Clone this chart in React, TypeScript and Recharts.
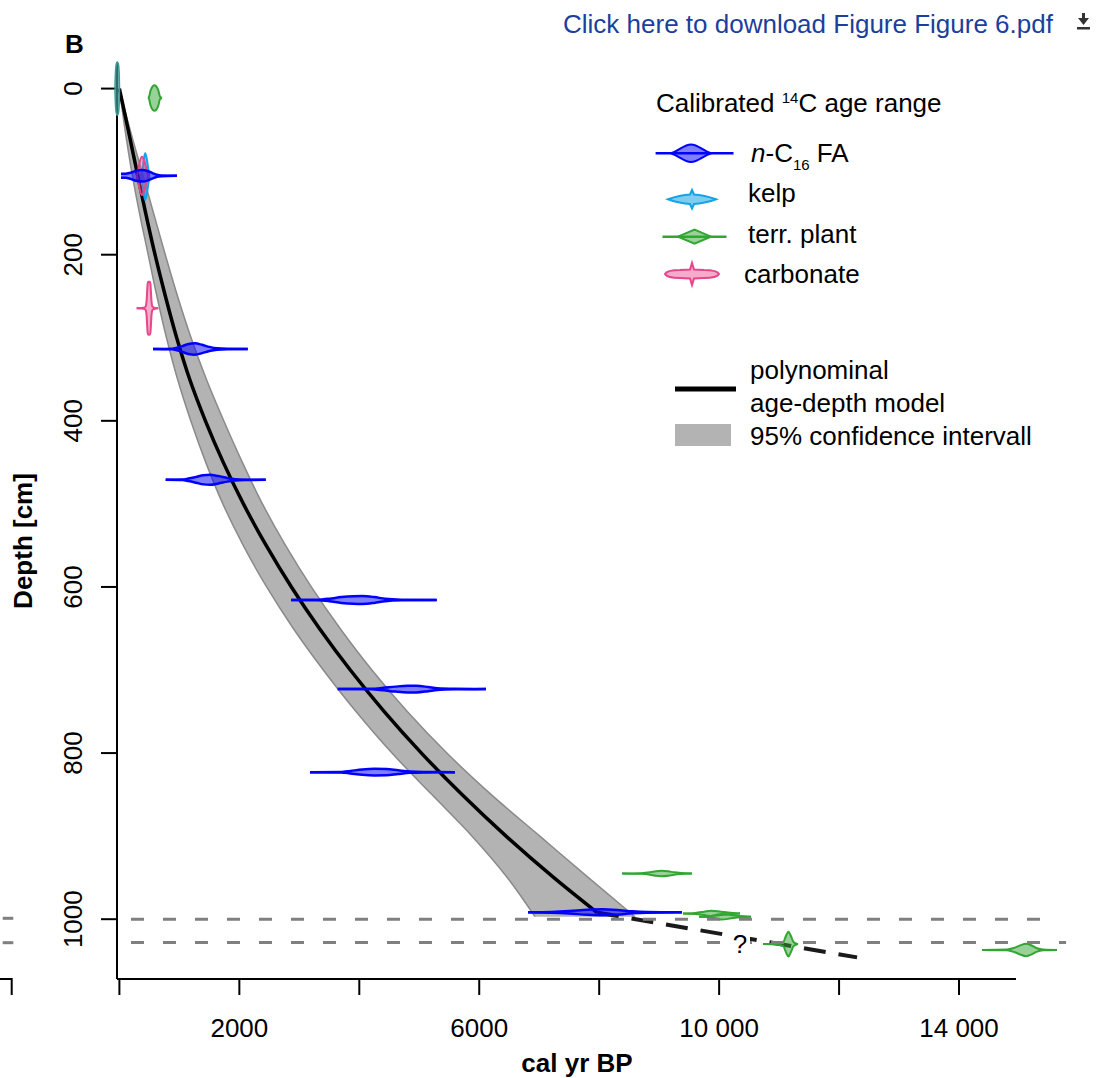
import React from 'react';
import { ComposedChart, Area, Line, XAxis, YAxis } from 'recharts';

const FONT = '"Liberation Sans", Arial, Helvetica, sans-serif';
const W = 1107;
const H = 1078;
const PLOT = { left: 117, right: 1016, top: 62, bottom: 979 };
const AXIS_W = 60;
const AXIS_H = 30;
const AGE_DOMAIN: [number, number] = [-40, 14950];
const DEPTH_DOMAIN: [number, number] = [-32, 1072];

// axis ticks
const xTicks = [0, 2000, 4000, 6000, 8000, 10000, 12000, 14000];
const xTickLabels = ['', '2000', '', '6000', '', '10 000', '', '14 000'];
const yTicks = [0, 200, 400, 600, 800, 1000];

// polynomial age-depth model (depth cm -> cal yr BP)
const modelDepth = [0, 50, 100, 150, 200, 250, 300, 350, 400, 450, 500, 550, 600, 650, 700, 750, 800, 850, 900, 950, 992];
const modelAge = [0, 148, 292, 438, 594, 767, 955, 1172, 1434, 1732, 2068, 2447, 2868, 3335, 3850, 4416, 5036, 5712, 6447, 7244, 7964];
// dashed extrapolation
const extDepth = [992, 1046];
const extAge = [7964, 12300];

// 95% confidence interval
const bandDepth = [0, 50, 100, 150, 200, 250, 300, 350, 400, 450, 500, 550, 600, 650, 700, 750, 800, 850, 900, 950, 997];
const bandMin = [0, 95, 205, 335, 480, 625, 785, 970, 1190, 1440, 1725, 2065, 2455, 2900, 3400, 3945, 4545, 5210, 5880, 6470, 6930];
const bandMax = [0, 180, 375, 570, 765, 970, 1195, 1450, 1740, 2050, 2385, 2770, 3200, 3680, 4210, 4800, 5460, 6200, 7010, 7820, 8598];

// horizontal dashed marker depths (with their age extent)
const markerDepths = [1000, 1028];
const markerStart = [193, 193];
const markerEnd = [15434, 15785];

// calibrated age distributions: depth, ages, half-heights (cm)
const faDepth = [105, 313.5, 471, 615.7, 723, 823, 991.7];
const faAge = [
  [27, 100, 177, 280, 377, 480, 560, 627, 700, 960],
  [560, 880, 960, 1050, 1150, 1260, 1380, 1500, 1630, 1800, 2140],
  [772, 1050, 1150, 1280, 1400, 1511, 1650, 1800, 1930, 2100, 2440],
  [2862, 3300, 3500, 3700, 3900, 4050, 4250, 4430, 4700, 5291],
  [3640, 4200, 4400, 4600, 4800, 4950, 5150, 5300, 5600, 6113],
  [3178, 3700, 3850, 4050, 4250, 4450, 4650, 4850, 5100, 5596],
  [6813, 7200, 7500, 7800, 8050, 8300, 8550, 8800, 9381],
];
const faHalf = [
  [2.5, 2.5, 3.5, 6, 7, 5.5, 3, 1.2, 0.4, 0],
  [0, 0.3, 1.5, 3.5, 6.0, 6.8, 5.0, 2.5, 0.8, 0.2, 0],
  [0, 0.3, 1.5, 3.5, 5.5, 6.0, 4.5, 2.2, 0.8, 0.2, 0],
  [0, 0.3, 1.5, 3.5, 4.6, 4.8, 3.5, 1.5, 0.4, 0],
  [0, 0.3, 1.5, 3.0, 4.0, 4.0, 2.5, 1.0, 0.3, 0],
  [0, 0.3, 1.5, 3.2, 4.0, 3.8, 2.2, 0.8, 0.3, 0],
  [0, 0.5, 1.5, 3.0, 3.6, 2.8, 1.2, 0.4, 0],
];

const kelpDepth = [106];
const kelpAge = [[360, 385, 410, 430, 455, 480, 500]];
const kelpHalf = [[0, 8, 22, 28, 22, 10, 0]];

const carbDepth = [105, 264.5];
const carbAge = [
  [290, 310, 340, 375, 410, 445, 480],
  [288, 400, 436, 452, 472, 482, 506, 516, 536, 552, 590, 648],
];
const carbHalf = [
  [0, 6, 17, 23, 19, 10, 0],
  [0, 0.5, 2, 8, 30, 32, 32, 30, 8, 2, 0.5, 0],
];

const terrDepth = [11.3, 945, 993, 997, 1030, 1037];
const terrAge = [
  [477, 495, 520, 560, 585, 610, 650, 677, 710],
  [8381, 8700, 8850, 8950, 9040, 9150, 9250, 9365, 9548],
  [9398, 9600, 9750, 9865, 10000, 10150, 10348],
  [9665, 9850, 9950, 10050, 10200, 10350, 10532],
  [10732, 10950, 11070, 11115, 11155, 11195, 11240, 11290, 11316],
  [14384, 14800, 14920, 15020, 15118, 15220, 15300, 15400, 15634],
];
const terrHalf = [
  [0, 1.5, 9, 14.5, 15.4, 14.5, 9, 1.5, 0],
  [0, 0.4, 1.5, 2.8, 3.2, 2.6, 1.4, 0.6, 0],
  [0, 0.6, 2.0, 3.2, 2.4, 1.0, 0],
  [0, 0.8, 2.2, 3.4, 2.0, 0.8, 0],
  [0, 0.5, 2.5, 10, 15, 10, 2.5, 0.5, 0],
  [0, 0.4, 2.5, 5.5, 7.5, 5, 2, 0.5, 0],
];

const modernDepth = [0];
const modernAge = [[-75, -65, -50, -35, -18, -5, 2]];
const modernHalf = [[0, 20, 30, 32, 30, 20, 0]];

// ---- tables built from the arrays ----
const modelData = modelDepth.map((d, i) => ({ depth: d, age: modelAge[i] }));
const extData = extDepth.map((d, i) => ({ depth: d, age: extAge[i] }));
const bandData = bandDepth.map((d, i) => ({ depth: d, range: [bandMin[i], bandMax[i]] }));
const markerData = markerDepths.map((d, i) => [
  { age: markerStart[i], depth: d },
  { age: markerEnd[i], depth: d },
]);

const violins = (depths: number[], ages: number[][], halves: number[][]) =>
  depths.map((d, k) => ages[k].map((a, i) => ({ age: a, range: [d - halves[k][i], d + halves[k][i]] })));

const faV = violins(faDepth, faAge, faHalf);
const kelpV = violins(kelpDepth, kelpAge, kelpHalf);
const carbV = violins(carbDepth, carbAge, carbHalf);
const terrV = violins(terrDepth, terrAge, terrHalf);
const modernV = violins(modernDepth, modernAge, modernHalf);

const COL = {
  fa: '#0000ff',
  kelp: '#16a2e6',
  terr: '#33a532',
  carb: '#e8458b',
  modern: '#3f9a98',
};

// overlay chart (violins) uses full-canvas plot area with equivalent domains
const kx = (AGE_DOMAIN[1] - AGE_DOMAIN[0]) / (PLOT.right - PLOT.left);
const ky = (DEPTH_DOMAIN[1] - DEPTH_DOMAIN[0]) / (PLOT.bottom - PLOT.top);
const fullAge: [number, number] = [AGE_DOMAIN[0] - PLOT.left * kx, AGE_DOMAIN[1] + (W - PLOT.right) * kx];
const fullDepth: [number, number] = [DEPTH_DOMAIN[0] - PLOT.top * ky, DEPTH_DOMAIN[1] + (H - PLOT.bottom) * ky];

const YTick = (p: any) => {
  const { x, y, payload } = p;
  return (
    <text x={x} y={y} transform={`rotate(-90 ${x} ${y})`} textAnchor="middle" fontSize={26} fontFamily={FONT} fill="#000">
      {payload.value}
    </text>
  );
};

const renderViolins = (groups: any[][], color: string, key: string, sw: number, fo: number) =>
  groups.map((g, i) => (
    <Area
      key={`${key}${i}`}
      data={g}
      dataKey="range"
      type="monotone"
      stroke={color}
      strokeWidth={sw}
      fill={color}
      fillOpacity={fo}
      dot={false}
      activeDot={false}
      isAnimationActive={false}
    />
  ));

export default function App() {
  return (
    <div style={{ position: 'absolute', left: 0, top: 0, width: W, height: H, background: '#fff', fontFamily: FONT }}>
      <div style={{ position: 'absolute', left: 0, top: 0 }}>
        <ComposedChart
          layout="vertical"
          width={W}
          height={H}
          margin={{
            top: PLOT.top,
            right: W - PLOT.right,
            bottom: H - PLOT.bottom - AXIS_H,
            left: PLOT.left - AXIS_W,
          }}
        >
          <XAxis
            type="number"
            dataKey="age"
            domain={AGE_DOMAIN}
            allowDataOverflow
            ticks={xTicks}
            interval={0}
            height={AXIS_H}
            tickSize={16}
            tickMargin={23.5}
            tickFormatter={(v: number) => xTickLabels[xTicks.indexOf(v)] ?? ''}
            tick={{ fontSize: 26, fill: '#000', fontFamily: FONT }}
            axisLine={{ stroke: '#000', strokeWidth: 2 }}
            tickLine={{ stroke: '#000', strokeWidth: 2 }}
          />
          <YAxis
            type="number"
            dataKey="depth"
            domain={DEPTH_DOMAIN}
            allowDataOverflow
            ticks={yTicks}
            interval={0}
            width={AXIS_W}
            tickSize={16}
            tickMargin={19}
            tick={<YTick />}
            axisLine={{ stroke: '#000', strokeWidth: 2 }}
            tickLine={{ stroke: '#000', strokeWidth: 2 }}
          />
          <Area
            data={bandData}
            dataKey="range"
            type="monotone"
            stroke="#8a8a8a"
            strokeWidth={1.5}
            fill="#b3b3b3"
            fillOpacity={1}
            dot={false}
            activeDot={false}
            isAnimationActive={false}
          />
          <Line
            data={modelData}
            dataKey="age"
            type="monotone"
            stroke="#000"
            strokeWidth={3.5}
            dot={false}
            activeDot={false}
            isAnimationActive={false}
          />
          <Line
            data={extData}
            dataKey="age"
            type="linear"
            stroke="#1a1a1a"
            strokeWidth={4}
            strokeDasharray="22 13"
            dot={false}
            activeDot={false}
            isAnimationActive={false}
          />
        </ComposedChart>
      </div>
      <div style={{ position: 'absolute', left: 0, top: 0, pointerEvents: 'none' }}>
        <ComposedChart width={W} height={H} margin={{ top: 0, right: 0, bottom: 0, left: 0 }}>
          <XAxis type="number" dataKey="age" domain={fullAge} allowDataOverflow hide />
          <YAxis type="number" domain={fullDepth} reversed allowDataOverflow hide />
          {markerData.map((m, i) => (
            <Line
              key={`m${i}`}
              data={m}
              dataKey="depth"
              type="linear"
              stroke="#7f7f7f"
              strokeWidth={3}
              strokeDasharray="13 19"
              dot={false}
              activeDot={false}
              isAnimationActive={false}
            />
          ))}
          {renderViolins(modernV, COL.modern, 'mo', 1.5, 0.7)}
          {renderViolins(terrV, COL.terr, 'te', 2, 0.5)}
          {renderViolins(kelpV, COL.kelp, 'ke', 2, 0.55)}
          {renderViolins(carbV, COL.carb, 'ca', 2, 0.45)}
          {renderViolins(faV, COL.fa, 'fa', 2.5, 0.5)}
        </ComposedChart>
      </div>
      <svg
        width={W}
        height={H}
        style={{ position: 'absolute', left: 0, top: 0, pointerEvents: 'none' }}
        fontFamily={FONT}
      >
        {/* panel label and link */}
        <text x={65} y={53} fontSize={26} fontWeight="bold" fill="#000">B</text>
        <text x={563} y={33} fontSize={26} fill="#1b3f9c">Click here to download Figure Figure 6.pdf</text>
        <g fill="#333">
          <rect x={1082} y={13} width={3} height={6} />
          <path d="M1078,18 L1089,18 L1083.5,25 Z" />
          <rect x={1077} y={27} width={13} height={2.5} />
        </g>

        {/* axis titles */}
        <text x={32} y={541} transform="rotate(-90 32 541)" textAnchor="middle" fontSize={26} fontWeight="bold" fill="#000">
          Depth [cm]
        </text>
        <text x={577} y={1072} textAnchor="middle" fontSize={26} fontWeight="bold" fill="#000">cal yr BP</text>

        {/* question mark */}
        <rect x={729} y={927} width={21} height={28} fill="#fff" />
        <text x={740} y={953} textAnchor="middle" fontSize={26} fill="#000">?</text>

        {/* remnant of neighbouring panel */}
        <line x1={2.7} y1={918.3} x2={13.3} y2={918.3} stroke="#7f7f7f" strokeWidth={3} />
        <line x1={2.7} y1={942.7} x2={13.3} y2={942.7} stroke="#7f7f7f" strokeWidth={3} />
        <polyline points="0,979 11.7,979 11.7,995" fill="none" stroke="#000" strokeWidth={2} />

        {/* legend 1 */}
        <text x={656} y={112} fontSize={26} fill="#000">
          Calibrated <tspan fontSize={15} dy={-9}>14</tspan>
          <tspan dy={9}>C age range</tspan>
        </text>

        <line x1={655.6} y1={153.3} x2={733.5} y2={153.3} stroke={COL.fa} strokeWidth={2.5} />
        <path
          d="M671,153.3 C680,150 684,144.5 691,144.5 C698,144.5 702,150 711,153.3 C702,156.6 698,162 691,162 C684,162 680,156.6 671,153.3 Z"
          fill={COL.fa}
          fillOpacity={0.5}
          stroke={COL.fa}
          strokeWidth={2}
        />
        <text x={751} y={162} fontSize={26} fill="#000">
          <tspan fontStyle="italic">n</tspan>-C<tspan fontSize={15} dy={8}>16</tspan>
          <tspan dy={-8}>{'\u00A0FA'}</tspan>
        </text>

        <path
          d="M668,199.3 Q680,195 690,194.5 L692,190 L694,194.5 Q704,195 716,199.3 Q704,203.6 694,204 L692,208.5 L690,204 Q680,203.6 668,199.3 Z"
          fill={COL.kelp}
          fillOpacity={0.55}
          stroke={COL.kelp}
          strokeWidth={2}
        />
        <text x={748} y={202} fontSize={26} fill="#000">kelp</text>

        <line x1={662.5} y1={236.7} x2={726.5} y2={236.7} stroke={COL.terr} strokeWidth={2.5} />
        <path d="M678,236.7 L694.5,229.7 L711,236.7 L694.5,243.7 Z" fill={COL.terr} fillOpacity={0.5} stroke={COL.terr} strokeWidth={2} />
        <text x={748} y={243} fontSize={26} fill="#000">terr. plant</text>

        <path
          d="M665,274 Q667,270 680,270 L690,269.5 L692,263 L694,269.5 L704,270 Q717,270 719,274 Q717,278 704,278 L694,278.5 L692,285 L690,278.5 L680,278 Q667,278 665,274 Z"
          fill={COL.carb}
          fillOpacity={0.45}
          stroke={COL.carb}
          strokeWidth={2}
        />
        <text x={744} y={283} fontSize={26} fill="#000">carbonate</text>

        {/* legend 2 */}
        <rect x={675} y={386.5} width={61} height={5} fill="#000" />
        <text x={750} y={379} fontSize={26} fill="#000">polynominal</text>
        <text x={750} y={412} fontSize={26} fill="#000">age-depth model</text>
        <rect x={675} y={424} width={56} height={22} fill="#b3b3b3" />
        <text x={750} y={445} fontSize={26} fill="#000">95% confidence intervall</text>
      </svg>
    </div>
  );
}
